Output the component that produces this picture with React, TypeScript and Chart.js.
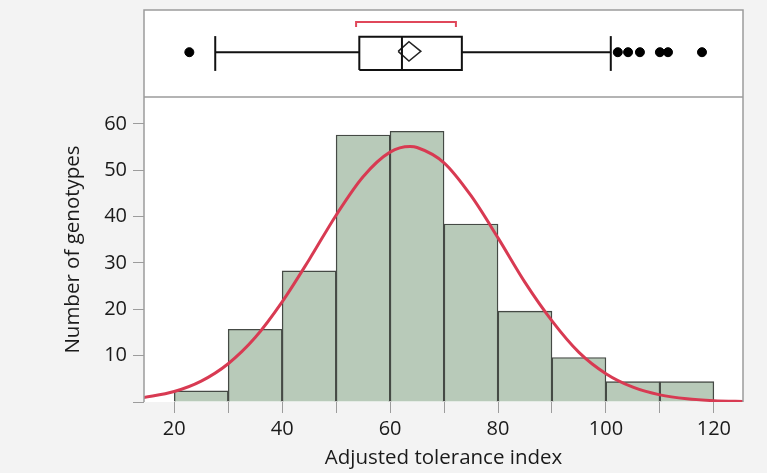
import React, { useEffect, useRef } from 'react';
import { Chart, registerables } from 'chart.js';

Chart.register(...registerables);

// ---------- data ----------
const binCenters = [25, 35, 45, 55, 65, 75, 85, 95, 105, 115];
const binCounts = [2.4, 15.7, 28.3, 57.6, 58.4, 38.4, 19.6, 9.6, 4.4, 4.4];

const curveX = [14, 20, 25, 30, 35, 40, 45, 50, 55, 60, 63.7, 65, 70, 75, 80, 85, 90, 95, 100, 105, 110, 115, 120, 126];
const curveY = [0.9, 2.27, 4.51, 8.26, 13.9, 21.6, 30.7, 40.3, 48.6, 53.9, 55.1, 54.9, 51.6, 44.5, 35.4, 25.8, 17.5, 10.7, 6.1, 3.19, 1.53, 0.68, 0.28, 0.08];

const whiskerLow = 27.6;
const quartile1 = 54.3;
const medianValue = 62.2;
const quartile3 = 73.3;
const whiskerHigh = 100.9;
const meanValue = 63.5;
const meanCI = [61.5, 65.7];
const shortestHalf = [53.7, 72.2];
const outliers = [22.8, 102.2, 104.1, 106.3, 110.0, 111.5, 117.8];

const xTickValues = [20, 30, 40, 50, 60, 70, 80, 90, 100, 110, 120];
const yTickValues = [0, 10, 20, 30, 40, 50, 60];

const xTitle = 'Adjusted tolerance index';
const yTitle = 'Number of genotypes';

// ---------- layout constants (box panel, in yBox units 0..10) ----------
const B_MID = 5.15;
const B_LO = 3.1;
const B_HI = 6.93;
const CAP_LO = 3.0;
const CAP_HI = 7.0;
const D_MID = 5.25;
const D_LO = 4.14;
const D_HI = 6.36;
const BR_LO = 8.05;
const BR_HI = 8.62;

const FONT = '"Open Sans", "DejaVu Sans", sans-serif';

const bgPlugin = {
  id: 'bgFrame',
  beforeDraw(chart: any) {
    const { ctx, chartArea: a, width, height } = chart;
    ctx.save();
    ctx.fillStyle = '#f3f3f3';
    ctx.fillRect(0, 0, width, height);
    ctx.fillStyle = '#ffffff';
    ctx.fillRect(a.left, a.top, a.right - a.left, a.bottom - a.top);
    ctx.restore();
  },
  afterDraw(chart: any) {
    const { ctx, chartArea: a } = chart;
    const sep = chart.scales.yBox.bottom;
    ctx.save();
    ctx.strokeStyle = '#9c9c9c';
    ctx.lineWidth = 1.5;
    ctx.beginPath();
    ctx.moveTo(a.left, a.bottom);
    ctx.lineTo(a.left, a.top);
    ctx.lineTo(a.right, a.top);
    ctx.lineTo(a.right, a.bottom);
    ctx.moveTo(a.left, sep);
    ctx.lineTo(a.right, sep);
    ctx.stroke();
    ctx.restore();
  },
};

export default function App() {
  const ref = useRef<HTMLCanvasElement | null>(null);

  useEffect(() => {
    if (!ref.current) return;
    const lineDs = (data: any[], color = '#111', width = 2) => ({
      type: 'line' as const,
      data,
      yAxisID: 'yBox',
      borderColor: color,
      borderWidth: width,
      pointRadius: 0,
      fill: false,
      tension: 0,
      order: 0,
    });

    const chart = new Chart(ref.current, {
      type: 'bar',
      data: {
        datasets: [
          {
            type: 'line',
            data: curveX.map((x, i) => ({ x, y: curveY[i] })),
            yAxisID: 'y',
            borderColor: '#d83a52',
            borderWidth: 3,
            pointRadius: 0,
            fill: false,
            cubicInterpolationMode: 'monotone',
            order: 0,
          } as any,
          {
            type: 'bar',
            data: binCenters.map((x, i) => ({ x, y: binCounts[i] })),
            yAxisID: 'y',
            backgroundColor: '#b8cab9',
            borderColor: '#454a45',
            borderWidth: 1.4,
            borderSkipped: 'bottom',
            barPercentage: 1,
            categoryPercentage: 1,
            order: 2,
          } as any,
          lineDs([{ x: whiskerLow, y: B_MID }, { x: quartile1, y: B_MID }]),
          lineDs([{ x: quartile3, y: B_MID }, { x: whiskerHigh, y: B_MID }]),
          lineDs([{ x: whiskerLow, y: CAP_LO }, { x: whiskerLow, y: CAP_HI }]),
          lineDs([{ x: whiskerHigh, y: CAP_LO }, { x: whiskerHigh, y: CAP_HI }]),
          lineDs([
            { x: quartile1, y: B_LO },
            { x: quartile3, y: B_LO },
            { x: quartile3, y: B_HI },
            { x: quartile1, y: B_HI },
            { x: quartile1, y: B_LO },
          ]),
          lineDs([{ x: medianValue, y: B_LO }, { x: medianValue, y: B_HI }]),
          lineDs(
            [
              { x: meanCI[0], y: D_MID },
              { x: meanValue, y: D_HI },
              { x: meanCI[1], y: D_MID },
              { x: meanValue, y: D_LO },
              { x: meanCI[0], y: D_MID },
            ],
            '#222',
            1.5
          ),
          lineDs(
            [
              { x: shortestHalf[0], y: BR_LO },
              { x: shortestHalf[0], y: BR_HI },
              { x: shortestHalf[1], y: BR_HI },
              { x: shortestHalf[1], y: BR_LO },
            ],
            '#e0475a',
            2
          ),
          {
            type: 'scatter',
            data: outliers.map((x) => ({ x, y: B_MID })),
            yAxisID: 'yBox',
            backgroundColor: '#000',
            borderColor: '#000',
            pointRadius: 4.5,
            order: 0,
          } as any,
        ],
      },
      options: {
        animation: false,
        responsive: false,
        devicePixelRatio: 1,
        layout: { padding: { top: 10, right: 24, left: 0, bottom: 0 } },
        plugins: { legend: { display: false }, tooltip: { enabled: false } },
        scales: {
          x: {
            type: 'linear',
            min: 14.4,
            max: 125.4,
            offset: false,
            afterBuildTicks: (s: any) => {
              s.ticks = xTickValues.map((v) => ({ value: v }));
            },
            afterFit: (s: any) => {
              s.height = 71;
              s.paddingLeft = 0;
              s.paddingRight = 0;
            },
            ticks: {
              autoSkip: false,
              maxRotation: 0,
              padding: 4,
              color: '#1a1a1a',
              font: { family: FONT, size: 20 },
              callback: (v: any) => (Number(v) % 20 === 0 ? String(v) : ''),
            },
            grid: { drawOnChartArea: false, drawTicks: true, tickLength: 11, color: '#9c9c9c', offset: false },
            border: { display: false },
            title: {
              display: true,
              text: xTitle,
              color: '#1a1a1a',
              font: { family: FONT, size: 20.5 },
              padding: { top: 0, bottom: 3 },
            },
          },
          y: {
            type: 'linear',
            position: 'left',
            stack: 'main',
            stackWeight: 305,
            weight: 0,
            min: 0,
            max: 65.8,
            afterBuildTicks: (s: any) => {
              s.ticks = yTickValues.map((v) => ({ value: v }));
            },
            afterFit: (s: any) => {
              s.width = 144;
              s.paddingTop = 0;
              s.paddingBottom = 0;
            },
            ticks: {
              padding: 6,
              color: '#1a1a1a',
              font: { family: FONT, size: 20 },
              callback: (v: any) => (Number(v) === 0 ? '' : String(v)),
            },
            grid: { drawOnChartArea: false, drawTicks: true, tickLength: 11, color: '#9c9c9c' },
            border: { display: false },
            title: {
              display: true,
              text: yTitle,
              color: '#1a1a1a',
              font: { family: FONT, size: 20.5 },
              padding: { top: 61, bottom: 0 },
            },
          },
          yBox: {
            type: 'linear',
            position: 'left',
            stack: 'main',
            stackWeight: 87,
            weight: 1,
            min: 0,
            max: 10,
            afterFit: (s: any) => {
              s.width = 144;
              s.paddingTop = 0;
              s.paddingBottom = 0;
            },
            ticks: { display: false },
            grid: { display: false },
            border: { display: false },
          },
        } as any,
      },
      plugins: [bgPlugin],
    } as any);
    return () => chart.destroy();
  }, []);

  return (
    <div style={{ position: 'absolute', left: 0, top: 0, width: 767, height: 473, background: '#f3f3f3' }}>
      <canvas ref={ref} width={767} height={473} style={{ display: 'block', width: 767, height: 473 }} />
    </div>
  );
}
